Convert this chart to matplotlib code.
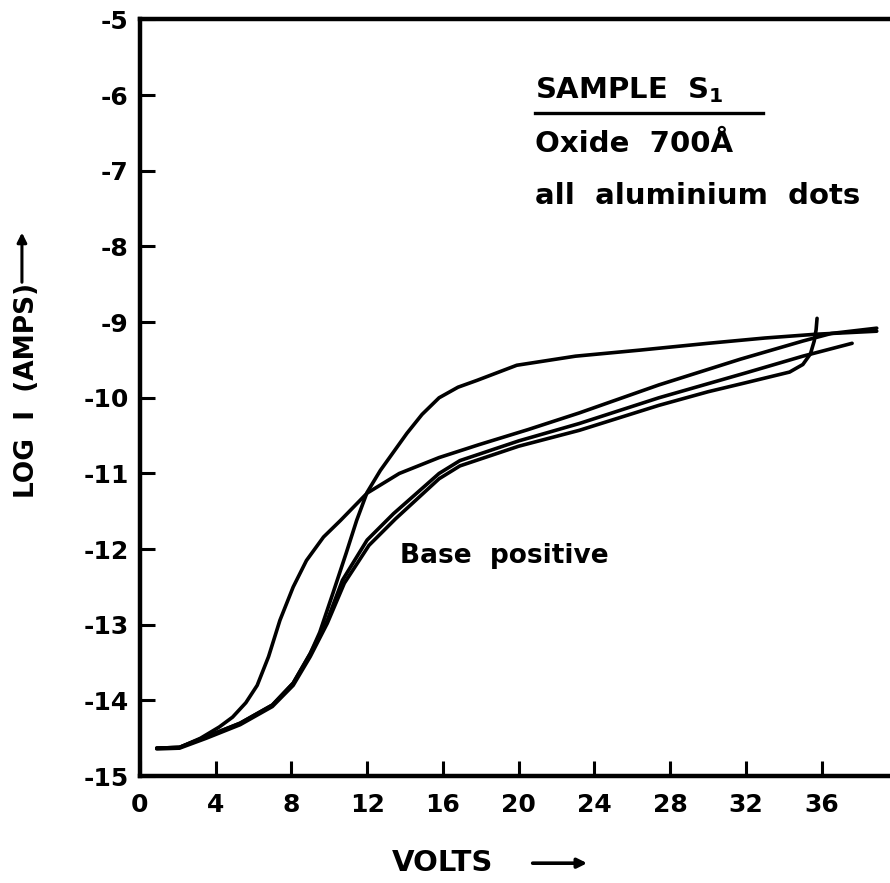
import matplotlib
matplotlib.use("Agg")
import matplotlib.pyplot as plt
from matplotlib.lines import Line2D

# curve data (volts, log I)
volts_a = [0.9, 2.1, 3.2, 4.2, 4.9, 5.6, 6.2, 6.8, 7.4, 8.1, 8.8, 9.7, 10.6, 12.0, 13.7,
           15.8, 17.9, 20.5, 23.2, 27.4, 31.7, 35.0, 36.5, 38.9]
logi_a = [-14.63, -14.62, -14.5, -14.35, -14.22, -14.03, -13.8, -13.42, -12.94, -12.5,
          -12.15, -11.84, -11.62, -11.26, -11.0, -10.79, -10.62, -10.42, -10.2, -9.83,
          -9.49, -9.25, -9.15, -9.08]

volts_b = [0.9, 2.1, 3.5, 5.3, 7.0, 8.1, 9.0, 9.5, 10.2, 10.9, 11.45, 12.0, 12.7, 14.1,
           14.9, 15.8, 16.8, 17.8, 19.9, 23.0, 26.4, 30.0, 33.0, 35.7, 38.9]
logi_b = [-14.63, -14.62, -14.48, -14.3, -14.06, -13.77, -13.38, -13.1, -12.58, -12.05,
          -11.62, -11.25, -10.96, -10.47, -10.22, -10.0, -9.86, -9.77, -9.57, -9.45,
          -9.37, -9.28, -9.21, -9.16, -9.12]

volts_c = [0.9, 2.1, 3.5, 5.3, 7.0, 8.1, 9.0, 9.9, 10.7, 12.0, 13.4, 15.8, 16.9, 20.0,
           23.2, 27.4, 32.0, 35.0, 37.6]
logi_c = [-14.63, -14.62, -14.48, -14.3, -14.06, -13.77, -13.38, -12.94, -12.41, -11.88,
          -11.53, -11.0, -10.83, -10.57, -10.34, -10.0, -9.67, -9.45, -9.28]

volts_d = [0.9, 2.1, 3.5, 5.3, 7.0, 8.1, 9.0, 9.9, 10.8, 12.1, 13.5, 15.8, 16.9, 20.0,
           23.2, 27.4, 30.0, 32.0, 34.3, 35.0, 35.4, 35.6, 35.7, 35.75]
logi_d = [-14.64, -14.63, -14.5, -14.32, -14.08, -13.8, -13.42, -12.98, -12.45, -11.95,
          -11.6, -11.07, -10.9, -10.64, -10.43, -10.1, -9.92, -9.8, -9.66, -9.56,
          -9.42, -9.25, -9.1, -8.95]

x_ticks = [0, 4, 8, 12, 16, 20, 24, 28, 32, 36]
x_labels = ["0", "4", "8", "12", "16", "20", "24", "28", "32", "36"]
y_ticks = [-5, -6, -7, -8, -9, -10, -11, -12, -13, -14, -15]
y_labels = ["-5", "-6", "-7", "-8", "-9", "-10", "-11", "-12", "-13", "-14", "-15"]

plt.rcParams['font.family'] = ['DejaVu Sans']
plt.rcParams['font.weight'] = 'bold'

fig = plt.figure(figsize=(8.9, 8.83), dpi=100)
ax = fig.add_axes([0.157, 0.121, 0.843, 0.857])

for v, li in [(volts_a, logi_a), (volts_b, logi_b), (volts_c, logi_c), (volts_d, logi_d)]:
    ax.plot(v, li, color='black', lw=2.6, solid_joinstyle='round', solid_capstyle='round')

ax.set_xlim(0, 39.6)
ax.set_ylim(-15, -5)

ax.set_xticks(x_ticks)
ax.set_xticklabels(x_labels)
ax.set_yticks(y_ticks)
ax.set_yticklabels(y_labels)
ax.tick_params(direction='in', length=11, width=2.2, labelsize=18, pad=8)
ax.tick_params(axis='x', pad=12)

for side in ['left', 'bottom', 'top']:
    ax.spines[side].set_linewidth(3.2)
ax.spines['right'].set_visible(False)

# y label with upward arrow
ax.text(-0.150, 0.51, "LOG  I  (AMPS)", transform=ax.transAxes, rotation=90,
        ha='center', va='center', fontsize=19)
ax.annotate('', xy=(-0.157, 0.722), xytext=(-0.157, 0.649), xycoords='axes fraction',
            arrowprops=dict(arrowstyle='-|>', color='black', lw=2.2, mutation_scale=14))

# x label with right arrow
ax.text(0.403, -0.115, "VOLTS", transform=ax.transAxes, ha='center', va='center',
        fontsize=21)
ax.annotate('', xy=(0.60, -0.115), xytext=(0.52, -0.115), xycoords='axes fraction',
            arrowprops=dict(arrowstyle='-|>', color='black', lw=2.6, mutation_scale=14))

# notes
note = dict(transform=ax.transAxes, ha='left', va='center', fontsize=21)
ax.text(0.527, 0.906, "SAMPLE  S$_\\mathbf{1}$", **note)
ax.add_line(Line2D([0.527, 0.831], [0.876, 0.876], transform=ax.transAxes,
                   color='black', lw=2.4))
ax.text(0.527, 0.836, "Oxide  700Å", **note)
ax.text(0.527, 0.767, "all  aluminium  dots", **note)
ax.text(0.347, 0.291, "Base  positive", transform=ax.transAxes, ha='left',
        va='center', fontsize=19)

fig.savefig("out.png", dpi=100)
